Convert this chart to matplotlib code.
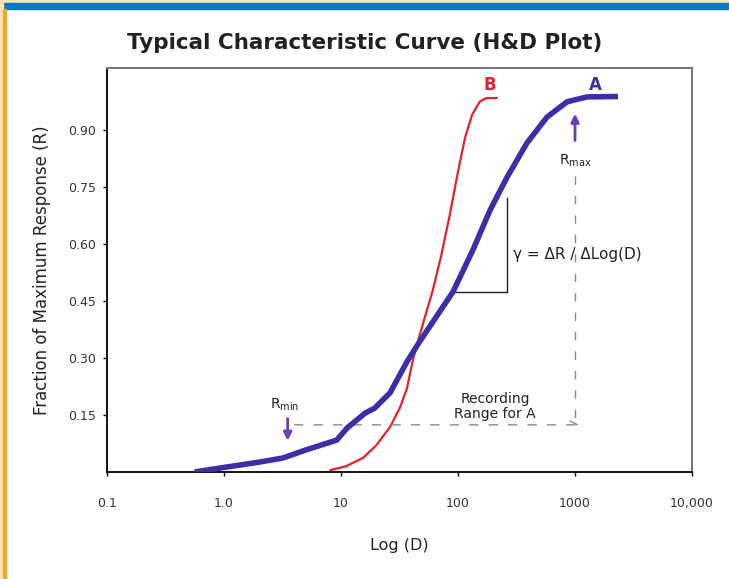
import matplotlib.pyplot as plt
from matplotlib.patches import Rectangle

# curve A (blue, thick) : dose vs fraction of max response
a_dose = [0.56, 1.0, 2.0, 3.2, 5.0, 9.2, 11.3, 16.1, 19.4, 26.2, 36.6, 47, 61, 90.6, 134, 188, 263, 389, 577, 855, 1268, 2330]
a_resp = [0.0, 0.012, 0.026, 0.037, 0.058, 0.084, 0.116, 0.155, 0.168, 0.208, 0.290, 0.343, 0.395, 0.474, 0.584, 0.689, 0.776, 0.866, 0.934, 0.974, 0.987, 0.988]

# curve B (red, thin)
b_dose = [8.1, 11.0, 15.4, 20.0, 26.2, 32.0, 36.6, 41.2, 47, 61, 72, 85.5, 100, 115, 132, 154, 175, 215]
b_resp = [0.005, 0.015, 0.037, 0.07, 0.118, 0.17, 0.22, 0.295, 0.36, 0.479, 0.57, 0.68, 0.79, 0.88, 0.94, 0.975, 0.984, 0.984]

x_ticks = [0.1, 1, 10, 100, 1000, 10000]
x_labels = ['0.1', '1.0', '10', '100', '1000', '10,000']
y_ticks = [0.15, 0.30, 0.45, 0.60, 0.75, 0.90]
y_labels = ['0.15', '0.30', '0.45', '0.60', '0.75', '0.90']

plt.rcParams['font.family'] = ['DejaVu Sans']

fig = plt.figure(figsize=(7.29, 5.79), dpi=100, facecolor='white')

# page decoration: peach strip, blue bar on top, orange rule on the left
fig.patches.append(Rectangle((0, 1 - 3 / 579), 1, 3 / 579, transform=fig.transFigure, color='#fde3b8', zorder=0))
fig.patches.append(Rectangle((0, 1 - 9 / 579), 1, 6 / 579, transform=fig.transFigure, color='#0a78c2', zorder=0))
fig.patches.append(Rectangle((0, 0), 3 / 729, 1 - 3 / 579, transform=fig.transFigure, color='#fde3b8', zorder=0))
fig.patches.append(Rectangle((3 / 729, 0), 3 / 729, 1 - 9 / 579, transform=fig.transFigure, color='#f5a623', zorder=0))

ax = fig.add_axes([107 / 729, 1 - 472 / 579, 585 / 729, 404 / 579])
ax.set_xscale('log')
ax.set_xlim(0.1, 10000)
ax.set_ylim(0, 1.063)

ax.plot(b_dose, b_resp, color='#e8202a', lw=1.6, solid_capstyle='round', solid_joinstyle='round', zorder=3)
ax.plot(a_dose, a_resp, color='#3a2fa8', lw=4, solid_capstyle='butt', solid_joinstyle='round', zorder=4)

ax.set_xticks(x_ticks)
ax.set_xticklabels(x_labels)
ax.minorticks_off()
ax.set_yticks(y_ticks)
ax.set_yticklabels(y_labels)
ax.tick_params(axis='both', labelsize=9, labelcolor='#333333', length=3, width=1, direction='out')
ax.tick_params(axis='x', pad=15)
ax.tick_params(axis='y', pad=5)

for s in ['left', 'bottom']:
    ax.spines[s].set_color('black')
    ax.spines[s].set_linewidth(1.3)
for s in ['top', 'right']:
    ax.spines[s].set_color('#777777')
    ax.spines[s].set_linewidth(1.5)

ax.set_xlabel('Log (D)', fontsize=11.5, labelpad=20, color='#222222')
ax.set_ylabel('Fraction of Maximum Response (R)', fontsize=12, labelpad=12, color='#222222')
fig.text(0.5, 1 - 43 / 579, 'Typical Characteristic Curve (H&D Plot)', ha='center', va='center',
         fontsize=15.5, fontweight='bold', color='#222222')

# curve labels
ax.text(1480, 1.018, 'A', color='#3a2fa8', fontsize=12, fontweight='bold', ha='center', va='center')
ax.text(186, 1.018, 'B', color='#e8202a', fontsize=12, fontweight='bold', ha='center', va='center')

# R max
purple = '#6a3fb5'
ax.annotate('', xy=(1000, 0.95), xytext=(1000, 0.865),
            arrowprops=dict(arrowstyle='-|>', color=purple, lw=2, mutation_scale=12))
ax.text(1000, 0.818, r'R$_{\mathregular{max}}$', fontsize=10, ha='center', va='center', color='#222222')
ax.plot([1000, 1000], [0.78, 0.13], color='#888888', lw=1, dashes=(6, 8))

# R min
ax.annotate('', xy=(3.5, 0.075), xytext=(3.5, 0.148),
            arrowprops=dict(arrowstyle='-|>', color=purple, lw=2, mutation_scale=12))
ax.text(3.3, 0.178, r'R$_{\mathregular{min}}$', fontsize=10, ha='center', va='center', color='#222222')

# recording range
ax.annotate('', xy=(1150, 0.124), xytext=(3.8, 0.124),
            arrowprops=dict(arrowstyle='->', color='#888888', lw=1, linestyle=(0, (6, 8)), mutation_scale=14))
ax.text(207, 0.172, 'Recording\nRange for A', fontsize=10, ha='center', va='center', color='#222222',
        linespacing=1.05)

# gamma triangle
ax.plot([263, 263, 90.6], [0.721, 0.474, 0.474], color='#222222', lw=1)
ax.text(295, 0.571, 'γ = ΔR / ΔLog(D)', fontsize=11, ha='left', va='center', color='#222222')

plt.savefig('out.png', dpi=100, facecolor='white')
